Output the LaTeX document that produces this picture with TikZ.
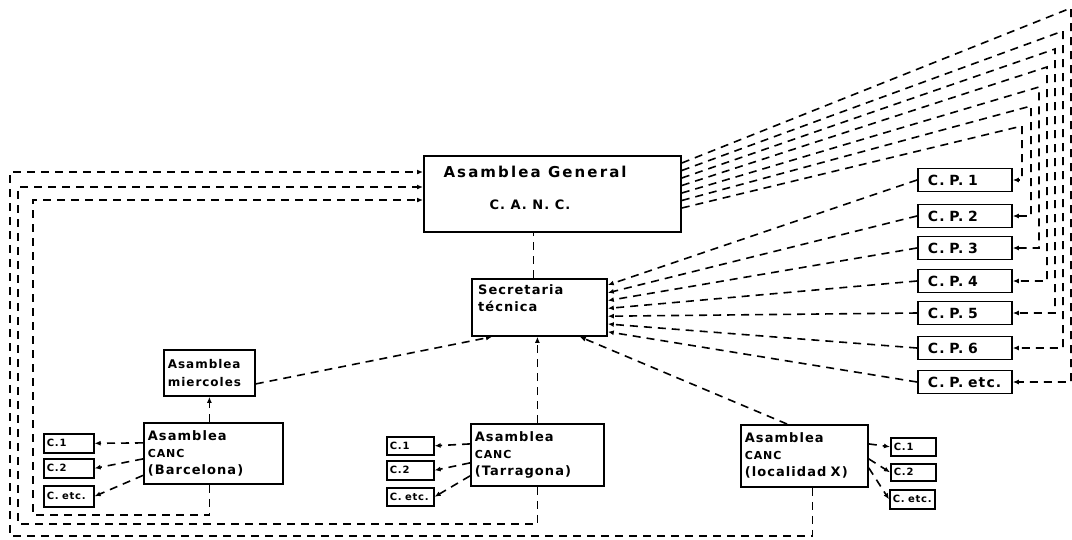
\documentclass[tikz,border=0pt]{standalone}
\usepackage{fontspec}
\newfontfamily\hand[LetterSpace=8]{DejaVu Sans}
\newfontfamily\handwide[LetterSpace=14]{DejaVu Sans}
\usetikzlibrary{positioning,calc,arrows.meta}

\begin{document}
\begin{tikzpicture}[x=1pt, y=-1pt,
    >={Latex[length=6pt,width=5pt]},
    box/.style={draw, line width=1.8pt, inner xsep=4pt, inner ysep=0pt, align=left, anchor=north west},
    cbox/.style={box, font=\hand\bfseries\fontsize{10}{11}\selectfont, inner xsep=3pt, line width=1.6pt},
    big/.style={font=\hand\bfseries\fontsize{13}{17}\selectfont},
    link/.style={line width=1.6pt, dash pattern=on 8pt off 6pt}]
    \useasboundingbox (0,0) rectangle (1072,539);

    % Asamblea General and Secretaria
    \node[box, minimum width=257pt, minimum height=76pt] (gen) at (423,155) {};
    \node[font=\handwide\bfseries\fontsize{15}{18}\selectfont, anchor=west] (genA) at (440,172) {Asamblea General};
    \node[font=\hand\bfseries\fontsize{13}{16}\selectfont] (genB) at (530,205) {C. A. N. C.};
    \node[box, minimum width=135pt, minimum height=57pt] (sec) at (471,278) {};
    \node[font=\hand\bfseries\fontsize{13}{17}\selectfont, anchor=north west, align=left, inner sep=0pt] (secT) at (478,284) {Secretaria\\técnica};
    \coordinate (secTop) at ($(sec.north)+(-6,0)$);
    \draw[link] (secTop) -- (secTop |- gen.south);

    % local assemblies
    \node[box, font=\hand\bfseries\fontsize{12}{18}\selectfont, text width=83pt, minimum height=46pt] (mier) at (163,349) {Asamblea\\miercoles};
    \node[box, big, text width=131pt, minimum height=61pt] (bcn) at (143,422) {Asamblea\\{\fontsize{11}{12}\selectfont CANC}\\(Barcelona)};
    \node[box, big, text width=125pt, minimum height=62pt] (tgn) at (470,423) {Asamblea\\{\fontsize{11}{12}\selectfont CANC}\\(Tarragona)};
    \node[box, big, text width=119pt, minimum height=62pt] (loc) at (740,424) {Asamblea\\{\fontsize{11}{12}\selectfont CANC}\\(localidad X)};

    % comisiones
    \node[cbox, text width=44pt, minimum height=19pt] (bc1) at (43,433) {C.1};
    \node[cbox, text width=44pt, minimum height=19pt] (bc2) at (43,458) {C.2};
    \node[cbox, text width=44pt, minimum height=21pt] (bce) at (43,485) {C. etc.};
    \node[cbox, text width=41pt, minimum height=18pt] (tc1) at (386,436) {C.1};
    \node[cbox, text width=41pt, minimum height=19pt] (tc2) at (386,460) {C.2};
    \node[cbox, text width=41pt, minimum height=18pt] (tce) at (386,487) {C. etc.};
    \node[cbox, text width=39pt, minimum height=18pt] (lc1) at (890,437) {C.1};
    \node[cbox, text width=39pt, minimum height=17pt] (lc2) at (890,463) {C.2};
    \node[cbox, text width=39pt, minimum height=19pt] (lce) at (889,489) {C. etc.};

    \draw[link,->] ($(bcn.west)+(0,-10.5)$) -- (bc1.east);
    \draw[link,->] ($(bcn.west)+(0,5.5)$) -- (bc2.east);
    \draw[link,->] ($(bcn.west)+(0,22)$) -- (bce.east);
    \draw[link,->] ($(tgn.west)+(0,-11)$) -- (tc1.east);
    \draw[link,->] ($(tgn.west)+(0,8)$) -- (tc2.east);
    \draw[link,->] ($(tgn.west)+(0,21)$) -- (tce.east);
    \draw[link,->] ($(loc.east)+(0,-12)$) -- (lc1.west);
    \draw[link,->] ($(loc.east)+(0,3)$) -- (lc2.west);
    \draw[link,->] ($(loc.east)+(0,12)$) -- (lce.west);

    % up to Secretaria
    \draw[link,->] (mier.south |- bcn.north) -- (mier.south);
    \draw[link,->] ($(mier.east)+(0,11)$) -- ($(sec.south west)+(21,0)$);
    \draw[link,->] (tgn.north) -- (tgn.north |- sec.south);
    \draw[link,->] ($(loc.north west)+(47,0)$) -- ($(sec.south east)+(-28,0)$);

    % loops back to Asamblea General
    \coordinate (lp1) at (33,515);
    \coordinate (lp2) at (18,524);
    \coordinate (lp3) at (10,536);
    \draw[link,->] (mier.south |- bcn.south) |- (lp1) |- ($(gen.north west)+(0,45)$);
    \draw[link,->] (tgn.south) |- (lp2) |- ($(gen.north west)+(0,32)$);
    \draw[link,->] ($(loc.south)+(8,0)$) |- (lp3) |- ($(gen.north west)+(0,17)$);

    % C.P. boxes
    \foreach \n/\lab/\yy in {1/1/180, 2/2/216, 3/3/248, 4/4/281, 5/5/313, 6/6/348, 7/etc./382}
        \node[box, anchor=west, font=\hand\bfseries\fontsize{14}{16}\selectfont, inner xsep=10pt, text width=74pt, minimum height=23pt] (cp\n) at (917,\yy) {C. P. \lab};

    \foreach \n/\xv/\yc in {1/1022/126, 2/1031/106, 3/1039/87, 4/1047/67, 5/1055/49, 6/1063/31, 7/1071/8} {
        \coordinate (turn\n) at (\xv,\yc);
        \draw[link,->] ($(gen.north east)+(0,{60.5-7.5*\n})$) -- (turn\n) |- (cp\n.east);
        \draw[link,->] (cp\n.west) -- ($(sec.north east)+(0,{-0.8+7.8*\n})$);
    }
\end{tikzpicture}
\end{document}
